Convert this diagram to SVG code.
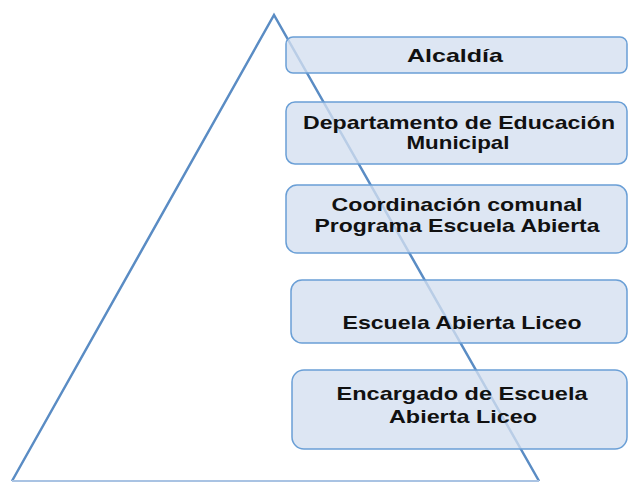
<svg xmlns="http://www.w3.org/2000/svg" width="628" height="482" viewBox="0 0 628 482">
<style>
.box{fill:#d4dff0;fill-opacity:0.78;stroke:#6a9fd6;stroke-width:1.5}
.t{font-family:"Liberation Sans",Arial,sans-serif;font-weight:bold;font-size:19px;fill:#111;text-anchor:middle}
.tri{fill:none;stroke:#5a8cc4;stroke-width:2.5}
</style>
<rect width="628" height="482" fill="#fff"/>
<g id="connectors">
<polyline class="tri" points="12,481 274,15 539,481"/>
<line x1="12" y1="481" x2="539" y2="481" stroke="#a9c3e3" stroke-width="2"/>
</g>
<g id="n1">
<rect class="box" x="286" y="37" width="341" height="36" rx="7"/>
<text class="t" x="455" y="62" textLength="96" lengthAdjust="spacingAndGlyphs">Alcaldía</text>
</g>
<g id="n2">
<rect class="box" x="286" y="102" width="341" height="62" rx="9"/>
<text class="t" x="459" y="129" textLength="312" lengthAdjust="spacingAndGlyphs">Departamento de Educación</text>
<text class="t" x="458" y="149" textLength="103" lengthAdjust="spacingAndGlyphs">Municipal</text>
</g>
<g id="n3">
<rect class="box" x="286" y="185" width="341" height="68" rx="11"/>
<text class="t" x="457" y="211" textLength="251" lengthAdjust="spacingAndGlyphs">Coordinación comunal</text>
<text class="t" x="457" y="232" textLength="285" lengthAdjust="spacingAndGlyphs">Programa Escuela Abierta</text>
</g>
<g id="n4">
<rect class="box" x="291" y="280" width="336" height="63" rx="11"/>
<text class="t" x="462" y="329" textLength="239" lengthAdjust="spacingAndGlyphs">Escuela Abierta Liceo</text>
</g>
<g id="n5">
<rect class="box" x="292" y="370" width="335" height="79" rx="12"/>
<text class="t" x="462" y="400" textLength="251" lengthAdjust="spacingAndGlyphs">Encargado de Escuela</text>
<text class="t" x="463" y="423" textLength="148" lengthAdjust="spacingAndGlyphs">Abierta Liceo</text>
</g>
</svg>
